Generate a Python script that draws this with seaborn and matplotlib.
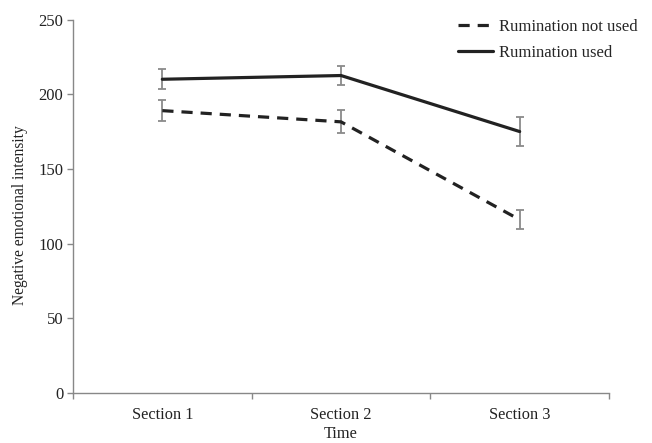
import numpy as np
import pandas as pd
import matplotlib
matplotlib.use("Agg")
import matplotlib.pyplot as plt
import seaborn as sns

sections = ["Section 1", "Section 2", "Section 3"]
groups = ["Rumination not used", "Rumination used"]
not_used_mean = [189, 181.5, 116]
not_used_err = [7.2, 7.7, 6.5]
used_mean = [210, 212.5, 175]
used_err = [6.7, 6.5, 9.6]

sns.set_theme(style="white")
plt.rcParams["font.family"] = ["Liberation Serif", "DejaVu Serif"]

df = pd.DataFrame({
    "Time": sections * 2,
    "pos": list(range(3)) * 2,
    "value": not_used_mean + used_mean,
    "err": not_used_err + used_err,
    "group": [groups[0]] * 3 + [groups[1]] * 3,
})

fig = plt.figure(figsize=(6.52, 4.43), dpi=100)
ax = fig.add_axes([73 / 652, 50 / 443, (609 - 73) / 652, (393 - 19.5) / 443])

# grey error bars behind the lines
for g in groups:
    sub = df[df["group"] == g]
    ax.errorbar(sub["pos"], sub["value"], yerr=sub["err"], fmt="none",
                ecolor="#8a8a8a", elinewidth=1.3, capsize=2.8, capthick=1.3,
                zorder=2)

sns.lineplot(data=df, x="pos", y="value", hue="group", style="group",
             palette={groups[0]: "#222222", groups[1]: "#222222"},
             dashes={groups[0]: (3.5, 2.5), groups[1]: ""},
             linewidth=2.3, ax=ax, legend=True, zorder=3)

ax.set_xlim(-0.5, 2.5)
ax.set_ylim(0, 250)
ax.set_yticks(np.arange(0, 251, 50))
ax.set_xticks(range(3))
ax.set_xticklabels(sections)
ax.set_xticks([-0.5, 0.5, 1.5, 2.5], minor=True)
ax.tick_params(axis="x", which="major", length=0, pad=10, labelsize=11.8,
               colors="#222222")
ax.tick_params(axis="x", which="minor", length=4, width=1, color="#888888",
               bottom=True, direction="out")
ax.tick_params(axis="y", length=4, width=1, color="#888888", left=True,
               direction="out", labelsize=12, labelcolor="#222222", pad=3)

for side in ["top", "right"]:
    ax.spines[side].set_visible(False)
for side in ["left", "bottom"]:
    ax.spines[side].set_color("#888888")
    ax.spines[side].set_linewidth(1)

ax.set_xlabel("Time", fontsize=11.8, color="#222222")
ax.xaxis.set_label_coords(0.5, -(434 - 393) / (393 - 19.5), transform=ax.transAxes)
ax.xaxis.label.set_va("center")
ax.set_ylabel("Negative emotional intensity", fontsize=11.2,
              color="#222222")
ax.yaxis.set_label_coords(-(73 - 20) / (609 - 73), (393 - 215) / (393 - 19.5))
ax.yaxis.label.set_va("center")

handles, labels = ax.get_legend_handles_labels()
ax.legend(handles, labels, loc="upper left",
          bbox_to_anchor=(458 / 652, 1 - 19 / 443),
          bbox_transform=fig.transFigure, frameon=False, fontsize=12,
          handlelength=2.1, handletextpad=0.35, labelspacing=0.6,
          borderpad=0, borderaxespad=0)

fig.savefig("out.png", dpi=100)
